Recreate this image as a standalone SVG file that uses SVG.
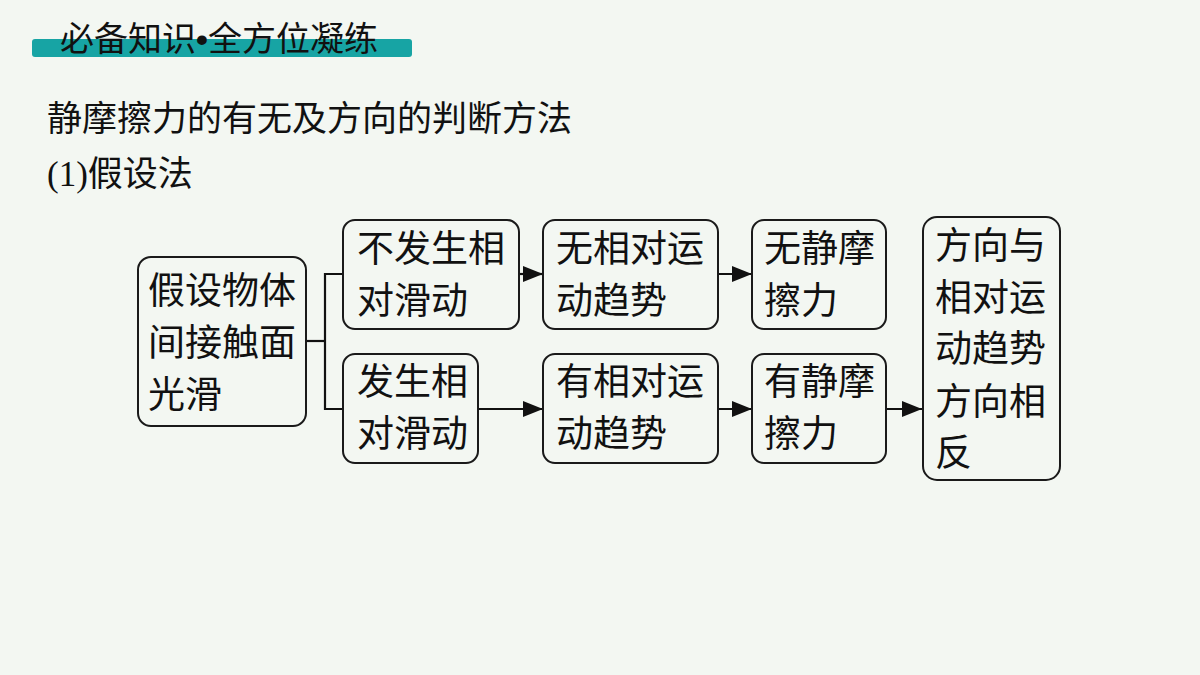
<svg xmlns="http://www.w3.org/2000/svg" width="1200" height="675" viewBox="0 0 1200 675">
<style>
.bg{fill:#f3f7f2}
.box{fill:none;stroke:#1a1a1a;stroke-width:2}
.t{font-family:"Noto Sans CJK SC","Noto Sans CJK TC",sans-serif;fill:#111}
.n{font-size:37px}
.c{stroke:#111;stroke-width:2.2;fill:none}
</style>
<defs>
<marker id="ah" viewBox="0 0 20 16" markerWidth="20" markerHeight="16" refX="20" refY="8" orient="auto" markerUnits="userSpaceOnUse">
<path d="M0,0 L20,8 L0,16 Z" fill="#111"/>
</marker>
</defs>
<rect class="bg" x="0" y="0" width="1200" height="675"/>
<g id="title">
<rect x="32" y="39" width="380" height="18" rx="3" fill="#17a4a4"/>
<text class="t" x="60" y="51" font-size="34">必备知识<tspan font-family="'Liberation Sans',sans-serif" font-weight="700">•</tspan>全方位凝练</text>
</g>
<g id="heading">
<text class="t" x="47" y="131" font-size="35">静摩擦力的有无及方向的判断方法</text>
<text class="t" x="47" y="186" font-size="35"><tspan font-family="'Liberation Serif',serif">(1)</tspan>假设法</text>
</g>
<g id="connectors">
<polyline class="c" points="306,341 325,341"/>
<polyline class="c" points="343,274 325,274 325,409 343,409"/>
<line class="c" x1="519" y1="274" x2="543" y2="274" marker-end="url(#ah)"/>
<line class="c" x1="478" y1="409" x2="543" y2="409" marker-end="url(#ah)"/>
<line class="c" x1="718" y1="274" x2="752" y2="274" marker-end="url(#ah)"/>
<line class="c" x1="718" y1="409" x2="752" y2="409" marker-end="url(#ah)"/>
<line class="c" x1="886" y1="409" x2="922" y2="409" marker-end="url(#ah)"/>
</g>
<g id="n1">
<rect class="box" x="138" y="257" width="168" height="169" rx="13"/>
<text class="t n" x="148" y="304">假设物体</text>
<text class="t n" x="148" y="356">间接触面</text>
<text class="t n" x="148" y="408">光滑</text>
</g>
<g id="n2">
<rect class="box" x="343" y="220" width="176" height="109" rx="12"/>
<text class="t n" x="357" y="262">不发生相</text>
<text class="t n" x="357" y="314">对滑动</text>
</g>
<g id="n3">
<rect class="box" x="343" y="354" width="135" height="109" rx="12"/>
<text class="t n" x="357" y="395">发生相</text>
<text class="t n" x="357" y="447">对滑动</text>
</g>
<g id="n4">
<rect class="box" x="543" y="220" width="175" height="109" rx="12"/>
<text class="t n" x="556" y="262">无相对运</text>
<text class="t n" x="556" y="314">动趋势</text>
</g>
<g id="n5">
<rect class="box" x="752" y="220" width="134" height="109" rx="12"/>
<text class="t n" x="764" y="262">无静摩</text>
<text class="t n" x="764" y="314">擦力</text>
</g>
<g id="n6">
<rect class="box" x="543" y="354" width="175" height="109" rx="12"/>
<text class="t n" x="556" y="395">有相对运</text>
<text class="t n" x="556" y="447">动趋势</text>
</g>
<g id="n7">
<rect class="box" x="752" y="354" width="134" height="109" rx="12"/>
<text class="t n" x="764" y="395">有静摩</text>
<text class="t n" x="764" y="447">擦力</text>
</g>
<g id="n8">
<rect class="box" x="923" y="217" width="137" height="263" rx="14"/>
<text class="t n" x="935" y="259">方向与</text>
<text class="t n" x="935" y="311">相对运</text>
<text class="t n" x="935" y="362">动趋势</text>
<text class="t n" x="935" y="415">方向相</text>
<text class="t n" x="935" y="466">反</text>
</g>
</svg>
